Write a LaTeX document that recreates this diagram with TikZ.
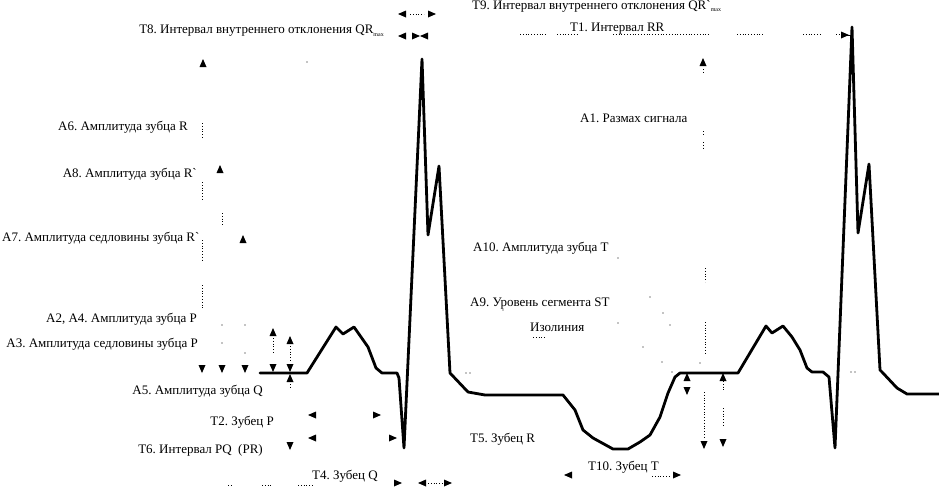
\documentclass[tikz,border=0pt]{standalone}
\usepackage{fontspec}
\setmainfont{Liberation Serif}
\frenchspacing
\newcommand{\tUp}[2]{\fill[shift={(#1,#2)}] (-3.5,4) -- (3.5,4) -- (0,-4) -- cycle;}
\newcommand{\tDn}[2]{\fill[shift={(#1,#2)}] (-3.5,-4) -- (3.5,-4) -- (0,4) -- cycle;}
\newcommand{\tLf}[2]{\fill[shift={(#1,#2)}] (4,-3.5) -- (4,3.5) -- (-4,0) -- cycle;}
\newcommand{\tRt}[2]{\fill[shift={(#1,#2)}] (-4,-3.5) -- (-4,3.5) -- (4,0) -- cycle;}
\newcommand{\pt}[2]{\fill (#1,#2) circle[radius=0.7pt];}
\newcommand{\submax}{\raisebox{-0.35ex}{\fontsize{6}{6}\selectfont max}}
\begin{document}
\begin{tikzpicture}[x=1pt,y=-1pt,
  lbl/.style={inner sep=0pt,font=\fontsize{13}{14}\selectfont},
  trace/.style={line width=2.8pt,line join=round,line cap=round},
  dots/.style={line width=0.8pt,dotted}]
\useasboundingbox (0,0) rectangle (939,488);
% ECG trace
\draw[trace] (260,373) -- (307,373) -- (336,327) -- (343,334) -- (354,327) -- (368,347) -- (376,368) -- (382,373) -- (397,373) -- (399,378) -- (404,448) -- (422,59) -- (428,235) -- (439,166) -- (450,373) -- (468,392) -- (485,395) -- (563,395) -- (575,410) -- (583,430) -- (593,438) -- (613,449) -- (628,449) -- (640,442) -- (650,435) -- (660,417) -- (668,393) -- (675,377) -- (680,373) -- (738,373) -- (766,326) -- (772,333) -- (783,326) -- (792,337) -- (800,350) -- (807,368) -- (812,372) -- (823,372) -- (829,377) -- (835,448) -- (852,27) -- (858,233) -- (869,164) -- (880,370) -- (882,372) -- (897,388) -- (907,394) -- (939,394);
% labels
\node[lbl,anchor=east] (t8) at (384,31) {Т8. Интервал внутреннего отклонения QR\submax};
\node[lbl,anchor=west] (t9) at (472,6) {Т9. Интервал внутреннего отклонения QR\textasciigrave\submax};
\node[lbl,anchor=west] (t1) at (570,29) {Т1. Интервал RR};
\node[lbl,anchor=west] (a1) at (580,118) {А1. Размах сигнала};
\node[lbl,anchor=east] (a6) at (188,127) {А6. Амплитуда зубца R};
\node[lbl,anchor=east] (a8) at (197,174) {А8. Амплитуда зубца R\textasciigrave};
\node[lbl,anchor=west] (a7) at (2,238) {А7. Амплитуда седловины зубца R\textasciigrave};
\node[lbl,anchor=west] (a10) at (473,248) {А10. Амплитуда зубца Т};
\node[lbl,anchor=west] (a9) at (470,304) {А9. Уровень сегмента ST};
\node[lbl,anchor=west] (iso) at (530,327) {Изолиния};
\node[lbl,anchor=east] (a2) at (197,319) {А2, А4. Амплитуда зубца Р};
\node[lbl,anchor=east] (a3) at (198,344) {А3. Амплитуда седловины зубца Р};
\node[lbl,anchor=east] (a5) at (263,391) {А5. Амплитуда зубца Q};
\node[lbl,anchor=east] (t2) at (274,422) {Т2. Зубец Р};
\node[lbl,anchor=east] (t6) at (263,450) {Т6. Интервал PQ \ (PR)};
\node[lbl,anchor=west] (t4) at (312,476) {Т4. Зубец Q};
\node[lbl,anchor=west] (t5) at (470,439) {Т5. Зубец R};
\node[lbl,anchor=west] (t10) at (588,467) {Т10. Зубец Т};
% up triangles
\tUp{203}{63} \tUp{703}{62} \tUp{220}{169} \tUp{243}{239}
\tUp{273}{332} \tUp{290}{340} \tUp{290}{378} \tUp{687}{377} \tUp{723}{377}
% down triangles
\tDn{202}{369} \tDn{222}{369} \tDn{245}{369} \tDn{273}{368} \tDn{290}{368}
\tDn{290}{446} \tDn{687}{391} \tDn{704}{445} \tDn{723}{443}
% left triangles
\tLf{402}{14} \tLf{402}{36} \tLf{424}{36} \tLf{312}{415} \tLf{312}{438}
\tLf{422}{483} \tLf{568}{475}
% right triangles
\tRt{432}{14} \tRt{416}{36} \tRt{377}{415} \tRt{393}{438} \tRt{398}{483}
\tRt{448}{483} \tRt{677}{475} \tRt{845}{35}
\draw[line width=1pt] (845,35) -- (852,35);
% dotted lines
\draw[dots] (410,14) -- (424,14);
\draw[dots] (520,34) -- (547,34) (557,34) -- (577,34) (613,34) -- (710,34) (737,34) -- (763,34) (803,34) -- (820,34) (836,34) -- (840,34);
\draw[dots] (202,123) -- (202,138);
\draw[dots] (202,182) -- (202,200);
\draw[dots] (222,213) -- (222,225);
\draw[dots] (202,240) -- (202,260);
\draw[dots] (202,285) -- (202,308);
\draw[dots] (703,69) -- (703,74) (703,131) -- (703,134) (703,142) -- (703,148);
\draw[dots] (705,268) -- (705,282);
\draw[dots] (705,322) -- (705,355);
\draw[dots] (273,338) -- (273,353);
\draw[dots] (290,346) -- (290,362);
\draw[dots] (290,384) -- (290,388);
\draw[dots] (704,392) -- (704,437);
\draw[dots] (723,381) -- (723,390) (723,408) -- (723,427);
\draw[dots] (228,485) -- (232,485) (262,485) -- (272,485) (298,485) -- (313,485);
\draw[dots] (428,483) -- (443,483);
\draw[dots] (652,476) -- (671,476);
\draw[dots] (533,337) -- (545,337);
% scattered dots
\pt{307}{62} \pt{222}{325} \pt{245}{325} \pt{222}{343} \pt{245}{353}
\pt{618}{258} \pt{650}{297} \pt{663}{313} \pt{618}{323} \pt{670}{325}
\pt{643}{347} \pt{662}{362} \pt{672}{372} \pt{700}{363} \pt{503}{310}
\pt{851}{372} \pt{855}{372} \pt{466}{373} \pt{470}{373}
\end{tikzpicture}
\end{document}
